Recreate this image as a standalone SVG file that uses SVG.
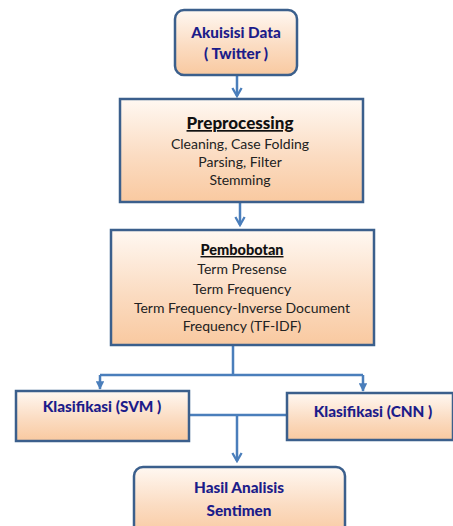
<svg xmlns="http://www.w3.org/2000/svg" width="453" height="526" viewBox="0 0 453 526">
  <defs>
    <linearGradient id="peach" x1="0" y1="0" x2="0" y2="1">
      <stop offset="0" stop-color="#fff8f2"/>
      <stop offset="0.55" stop-color="#fbdcc2"/>
      <stop offset="1" stop-color="#f9c9a0"/>
    </linearGradient>
    <marker id="vhead" viewBox="0 0 10 10" refX="8" refY="5" markerWidth="4.6" markerHeight="4.6" orient="auto" markerUnits="strokeWidth">
      <path d="M1,1 L8,5 L1,9" fill="none" stroke="#4a7ebb" stroke-width="2" stroke-linejoin="miter"/>
    </marker>
    <marker id="thead" viewBox="0 0 10 10" refX="9" refY="5" markerWidth="3.4" markerHeight="3.4" orient="auto" markerUnits="strokeWidth">
      <path d="M0,0 L10,5 L0,10 Z" fill="#4a7ebb"/>
    </marker>
  </defs>
  <style>
    .box { fill: url(#peach); stroke: #3b5f8c; stroke-width: 2.5; }
    .edge { fill: none; stroke: #4a7ebb; stroke-width: 2.5; }
    .title { font-family: Lato, "Liberation Sans", sans-serif; font-weight: 900; fill: #1c1c8a; text-anchor: middle; font-size: 15.3px; }
    .head { font-family: Lato, "Liberation Sans", sans-serif; font-weight: 900; fill: #111; text-anchor: middle; text-decoration: underline; }
    .body { font-family: Lato, "Liberation Sans", sans-serif; fill: #222; text-anchor: middle; font-size: 14px; }
  </style>

  <rect width="453" height="526" fill="#ffffff"/>

  <g id="connectors">
    <path class="edge" d="M237,75 V96" marker-end="url(#vhead)"/>
    <path class="edge" d="M240,202 V225" marker-end="url(#vhead)"/>
    <path class="edge" d="M233,345 V375 M100,375 H363"/>
    <path class="edge" d="M100,375 V389" marker-end="url(#thead)"/>
    <path class="edge" d="M363,375 V391" marker-end="url(#thead)"/>
    <path class="edge" d="M189,415 H287"/>
    <path class="edge" d="M237,415 V461" stroke-width="3.5" marker-end="url(#vhead)"/>
  </g>

  <g id="akuisisi">
    <rect class="box" x="175" y="10" width="122" height="65" rx="9"/>
    <text class="title" x="236" y="38">Akuisisi Data</text>
    <text class="title" x="236" y="59">( Twitter )</text>
  </g>

  <g id="preprocessing">
    <rect class="box" x="120" y="99" width="243" height="103"/>
    <text class="head" x="240" y="129" font-size="17">Preprocessing</text>
    <text class="body" x="240" y="149">Cleaning, Case Folding</text>
    <text class="body" x="240" y="167">Parsing, Filter</text>
    <text class="body" x="240" y="185">Stemming</text>
  </g>

  <g id="pembobotan">
    <rect class="box" x="111" y="230" width="263" height="115"/>
    <text class="head" x="242" y="255" font-size="14.5">Pembobotan</text>
    <text class="body" x="242" y="274">Term Presense</text>
    <text class="body" x="242" y="294">Term Frequency</text>
    <text class="body" x="242" y="313">Term Frequency-Inverse Document</text>
    <text class="body" x="242" y="331">Frequency (TF-IDF)</text>
  </g>

  <g id="svm">
    <rect class="box" x="16" y="391" width="173" height="50"/>
    <text class="title" x="102" y="412">Klasifikasi (SVM )</text>
  </g>

  <g id="cnn">
    <rect class="box" x="287" y="393" width="166" height="47"/>
    <text class="title" x="373" y="417">Klasifikasi (CNN )</text>
  </g>

  <g id="hasil">
    <rect class="box" x="134" y="467" width="211" height="70" rx="9"/>
    <text class="title" x="239" y="493">Hasil Analisis</text>
    <text class="title" x="239" y="516">Sentimen</text>
  </g>
</svg>
